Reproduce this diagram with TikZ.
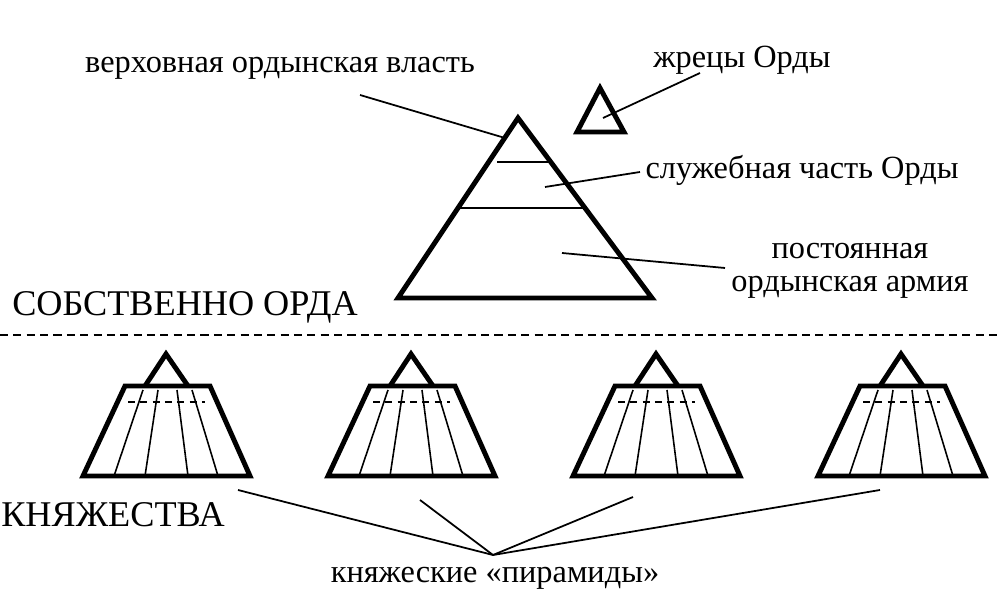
\documentclass[tikz,border=0pt]{standalone}
\usepackage{fontspec}
\setmainfont{Liberation Serif}
\tikzset{
    thickline/.style={line width=1.4pt, line join=miter},
    leader/.style={line width=0.5pt},
    lbl/.style={font=\fontsize{9.2}{9.3}\selectfont, inner sep=0pt, align=center},
    big/.style={font=\fontsize{10.3}{12}\selectfont, inner sep=0pt}
}
\newcommand{\princ}[2]{%
    % principality pyramid centred at x=#1
    \begin{scope}[xshift=#1*0.01cm]
        \draw[line width=0.45pt] (-23,390) -- (-52,476) (-8,390) -- (-21,476)
            (11,390) -- (22,476) (26,390) -- (52,476);
        \draw[line width=0.5pt, dash pattern=on 2pt off 1.5pt] (-38,402) -- (39,402);
        \draw[thickline] (-83,476) -- (-41,386) -- (44,386) -- (84,476) -- cycle;
        \draw[thickline] (-21,386) -- (0,354) -- (22,386);
    \end{scope}
}
\begin{document}
\begin{tikzpicture}[x=0.01cm, y=-0.01cm]
    \useasboundingbox (0,0) rectangle (1000,607);
    % Orda proper
    \draw[thickline] (518,118) -- (652,298) -- (398,298) -- cycle;
    \draw[leader] (497,162) -- (549,162) (460,208) -- (583,208);
    \draw[thickline] (600,88) -- (624,132) -- (577,132) -- cycle;
    \node[lbl] (vlast) at (280,68) {верховная ордынская власть};
    \node[lbl] (zhrecy) at (742,60) {жрецы Орды};
    \node[lbl] (sluzh) at (802,170) {служебная часть Орды};
    \node[lbl] (armia) at (850,271) {постоянная\\ордынская армия};
    \coordinate (pVlast) at (505,138);
    \coordinate (pZhrecy) at (603,118);
    \coordinate (pSluzh) at (545,187);
    \coordinate (pArmia) at (562,253);
    \draw[leader] (360,95) -- (pVlast);
    \draw[leader] (700,73) -- (pZhrecy);
    \draw[leader] (640,172) -- (pSluzh);
    \draw[leader] (725,268) -- (pArmia);
    \node[big] (orda) at (185,307) {СОБСТВЕННО ОРДА};
    \draw[line width=0.6pt, dash pattern=on 2.3pt off 1.5pt] (0,335) -- (1000,335);
    % principalities
    \princ{166}{k1}
    \princ{411}{k2}
    \princ{656}{k3}
    \princ{901}{k4}
    \node[big] (knyaz) at (113,515) {КНЯЖЕСТВА};
    \node[lbl] (piram) at (495,578) {княжеские «пирамиды»};
    \coordinate (hub) at (493,555);
    \draw[leader] (hub) -- (238,490);
    \draw[leader] (hub) -- (420,500);
    \draw[leader] (hub) -- (633,497);
    \draw[leader] (hub) -- (880,490);
\end{tikzpicture}
\end{document}
